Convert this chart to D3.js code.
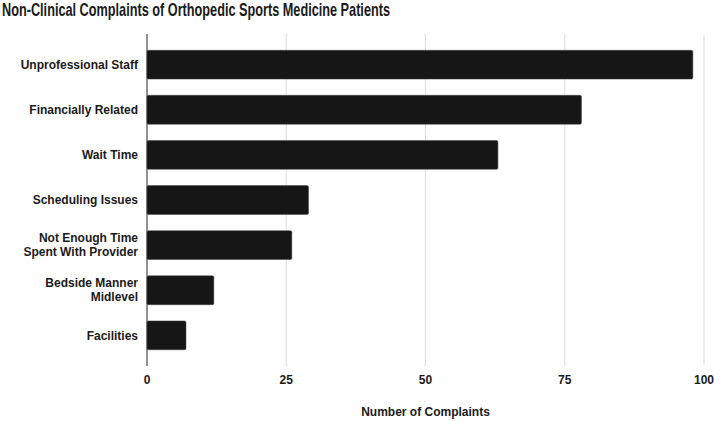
<!DOCTYPE html>
<html>
<head>
<meta charset="utf-8">
<script src="https://cdn.jsdelivr.net/npm/d3@7"></script>
<style>
  body { margin: 0; background: #fff; }
  text { font-family: "Liberation Sans", Arial, sans-serif; fill: #1a1a1a; }
</style>
</head>
<body>
<svg id="chart" width="714" height="421"></svg>
<script>
// data
var categories = [
  ["Unprofessional Staff"],
  ["Financially Related"],
  ["Wait Time"],
  ["Scheduling Issues"],
  ["Not Enough Time", "Spent With Provider"],
  ["Bedside Manner", "Midlevel"],
  ["Facilities"]
];
var complaints = [98, 78, 63, 29, 26, 12, 7];
var xTicks = [0, 25, 50, 75, 100];

// margins
var margin = { top: 34, right: 9, bottom: 55, left: 147 },
    width = 714 - margin.left - margin.right,
    height = 421 - margin.top - margin.bottom;

var svg = d3.select("#chart");
var g = svg.append("g").attr("transform", "translate(" + margin.left + "," + margin.top + ")");

var xScale = d3.scaleLinear().domain([0, 100]).range([0, 557]);
var yScale = d3.scaleBand().domain(d3.range(categories.length)).range([0, height]).padding(0.36);

// title (condensed look, so squeeze it to the width in the picture)
svg.append("text")
  .attr("x", 2).attr("y", 16)
  .attr("font-size", 18.5).attr("font-weight", "bold")
  .attr("textLength", 388).attr("lengthAdjust", "spacingAndGlyphs")
  .text("Non-Clinical Complaints of Orthopedic Sports Medicine Patients");

// gridlines
g.selectAll(".grid").data(xTicks.slice(1)).enter().append("line")
  .attr("x1", function(d){ return xScale(d); })
  .attr("x2", function(d){ return xScale(d); })
  .attr("y1", 0).attr("y2", height)
  .attr("stroke", "#dcdcdc").attr("stroke-width", 1);

// bars
g.selectAll(".bar").data(complaints).enter().append("rect")
  .attr("x", 0)
  .attr("y", function(d, i){ return yScale(i); })
  .attr("width", function(d){ return xScale(d); })
  .attr("height", yScale.bandwidth())
  .attr("rx", 1.5)
  .attr("fill", "#161616")
  .attr("stroke", "#444").attr("stroke-width", 0.5);

// axis line
g.append("line").attr("x1", 0).attr("x2", 0).attr("y1", 0).attr("y2", height)
  .attr("stroke", "#222").attr("stroke-width", 1);

// category labels
var labels = g.selectAll(".cat").data(categories).enter().append("text")
  .attr("text-anchor", "end")
  .attr("font-size", 12).attr("font-weight", "bold")
  .attr("transform", function(d, i){
    return "translate(-9," + (yScale(i) + yScale.bandwidth() / 2) + ")";
  });
labels.selectAll("tspan").data(function(d){ return d; }).enter().append("tspan")
  .attr("x", 0)
  .attr("y", function(d, i, nodes){ return (i - (nodes.length - 1) / 2) * 14; })
  .attr("dy", "0.35em")
  .text(function(d){ return d; });

// x tick labels
g.selectAll(".tick").data(xTicks).enter().append("text")
  .attr("x", function(d){ return xScale(d); })
  .attr("y", height + 18)
  .attr("text-anchor", "middle")
  .attr("font-size", 12).attr("font-weight", "bold")
  .text(function(d){ return d; });

// axis title
g.append("text")
  .attr("x", xScale(50)).attr("y", height + 50)
  .attr("text-anchor", "middle")
  .attr("font-size", 12).attr("font-weight", "bold")
  .text("Number of Complaints");
</script>
</body>
</html>
